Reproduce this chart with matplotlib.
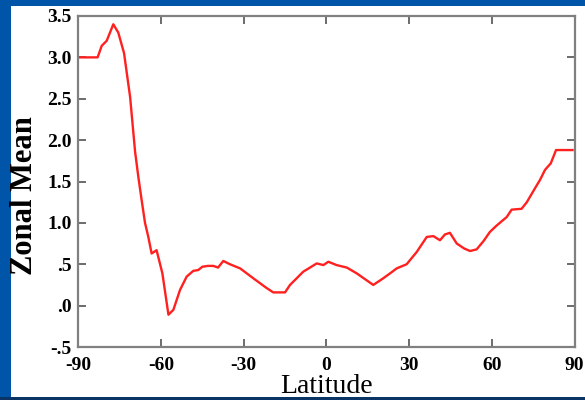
import matplotlib
matplotlib.use("Agg")
import matplotlib.pyplot as plt
from matplotlib.patches import Rectangle

# Zonal mean vs latitude
lat = [-89.4, -83.0, -81.5, -79.7, -77.3, -75.5, -73.4, -71.2, -69.4, -68.2,
       -67.0, -65.8, -64.6, -63.4, -61.6, -59.5, -57.3, -55.5, -53.1, -50.7,
       -48.3, -46.5, -45.0, -43.0, -41.0, -39.3, -37.4, -35.0, -31.3, -26.5,
       -22.0, -19.3, -15.0, -13.2, -8.4, -3.5, -1.1, 0.7, 3.7, 7.4,
       11.0, 17.0, 20.6, 23.1, 25.5, 29.1, 32.8, 36.4, 38.8, 41.2,
       43.0, 44.8, 47.3, 50.0, 52.1, 54.5, 57.0, 59.3, 61.5, 63.6,
       65.4, 67.2, 70.8, 72.7, 75.7, 77.5, 79.3, 81.4, 83.3, 89.3]
zonal_mean = [3.0, 3.0, 3.14, 3.2, 3.40, 3.30, 3.05, 2.52, 1.86, 1.55,
              1.27, 1.0, 0.83, 0.63, 0.67, 0.39, -0.11, -0.05, 0.19, 0.35,
              0.42, 0.43, 0.47, 0.48, 0.48, 0.46, 0.54, 0.50, 0.45, 0.33,
              0.22, 0.16, 0.16, 0.25, 0.41, 0.51, 0.49, 0.53, 0.49, 0.46,
              0.39, 0.25, 0.33, 0.39, 0.45, 0.50, 0.65, 0.83, 0.84, 0.79,
              0.86, 0.88, 0.75, 0.69, 0.66, 0.68, 0.78, 0.89, 0.96, 1.02,
              1.07, 1.16, 1.17, 1.25, 1.42, 1.52, 1.64, 1.72, 1.88, 1.88]

xticks = [-90, -60, -30, 0, 30, 60, 90]
yticks = [-0.5, 0.0, 0.5, 1.0, 1.5, 2.0, 2.5, 3.0, 3.5]
ytick_labels = ["-.5", ".0", ".5", "1.0", "1.5", "2.0", "2.5", "3.0", "3.5"]

serif = ["Liberation Serif", "DejaVu Serif"]

fig = plt.figure(figsize=(5.85, 4.0), dpi=100)
fig.patch.set_facecolor("#0055A8")

# white slide panel
fig.add_artist(Rectangle((11 / 585, 3.5 / 400), 1, 1 - 9.5 / 400,
                         transform=fig.transFigure, facecolor="white",
                         edgecolor="none", zorder=0))

ax = fig.add_axes([78.3 / 585, 53 / 400, 496.2 / 585, 331 / 400])
ax.set_facecolor("white")
ax.plot(lat, zonal_mean, color="#FF2020", lw=1.7)

ax.set_xlim(-90, 90)
ax.set_ylim(-0.5, 3.5)
ax.set_xticks(xticks)
ax.set_xticklabels([str(t) for t in xticks])
ax.set_yticks(yticks)
ax.set_yticklabels(ytick_labels)

for s in ax.spines.values():
    s.set_color("#808080")
    s.set_linewidth(1.6)
ax.tick_params(direction="in", length=6, width=1.3, color="#606060",
               top=True, right=True, labelsize=14, pad=7)
ax.tick_params(axis="y", pad=5)
for lab in ax.get_xticklabels() + ax.get_yticklabels():
    lab.set_fontfamily(serif)
    lab.set_fontweight("bold")

ax.set_ylabel("Zonal Mean", fontsize=22, fontweight="bold", family=serif)
ax.yaxis.set_label_coords(-0.079, 0.459)
ax.set_xlabel("Latitude", fontsize=20, family=serif)
ax.xaxis.set_label_coords(0.5, -0.083)

# dark stripe along the bottom
fig.add_artist(Rectangle((0, 0), 1, 3.5 / 400, transform=fig.transFigure,
                         facecolor="#0B3466", edgecolor="none", zorder=10))

fig.savefig("out.png", dpi=100, facecolor=fig.get_facecolor())
